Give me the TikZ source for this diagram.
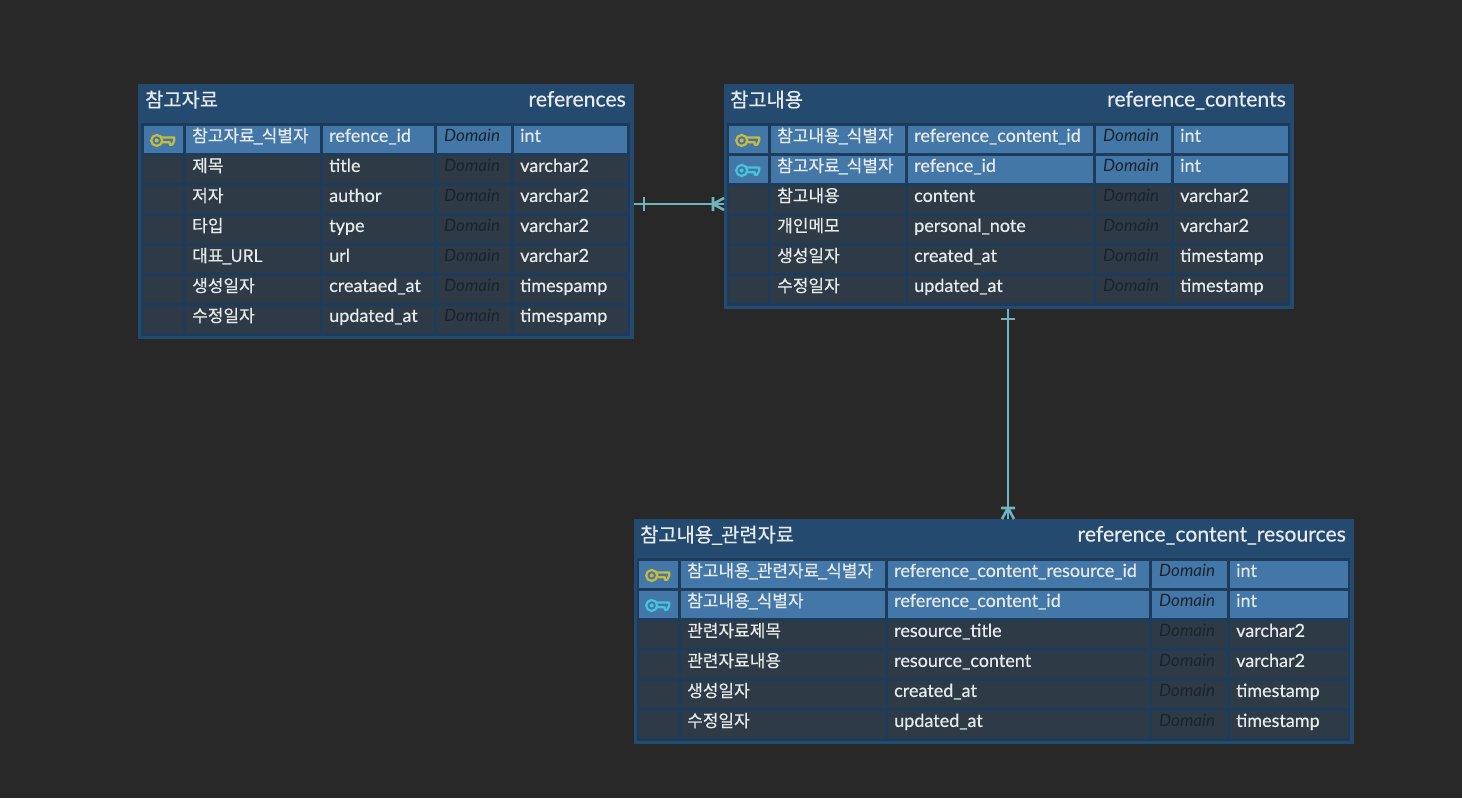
\documentclass[tikz,border=0pt]{standalone}
\usepackage{fontspec}
\setmainfont{Lato}
\newfontfamily\rowfont[RawFeature={embolden=0.5}]{Lato}
\newfontfamily\krfont[RawFeature={embolden=0.4}]{Noto Sans CJK KR}
\newcommand{\krus}{\kern-0.075em\_\kern-0.075em}
\usetikzlibrary{decorations.markings}

\definecolor{pagebg}{HTML}{282828}
\definecolor{panelblue}{HTML}{254A70}
\definecolor{framedark}{HTML}{1D3B5B}
\definecolor{pkfill}{HTML}{4277A8}
\definecolor{plainfill}{HTML}{2E3B46}
\definecolor{linkteal}{HTML}{6FB4BF}
\definecolor{textlight}{HTML}{E6EAEC}
\definecolor{domaindark}{HTML}{1B242B}
\definecolor{keyyellow}{HTML}{C9BC3C}
\definecolor{keycyan}{HTML}{46C4DA}

\tikzset{
    panel/.style={draw=panelblue, line width=0.8pt, fill=panelblue, anchor=north west, inner sep=0pt},
    frame box/.style={fill=framedark, anchor=north west, inner sep=0pt},
    cell/.style={anchor=north west, inner xsep=6pt, inner ysep=0pt, minimum height=27.5pt,
        text height=16pt, text depth=11.5pt, text width=#1pt-12pt, text=textlight,
        font=\rowfont\fontsize{18}{18}\selectfont},
    title kr/.style={anchor=base west, inner sep=0pt, text=textlight, font=\krfont\fontsize{19.8}{19.8}\selectfont},
    title en/.style={anchor=base east, inner sep=0pt, text=textlight, font=\rowfont\fontsize{21.2}{21.2}\selectfont},
    link/.style={draw=linkteal, line width=2.6pt, postaction={decorate},
        decoration={markings,
            mark=at position 10pt with {\draw[linkteal, line width=2.6pt] (0,-7) -- (0,7);},
            mark=at position -11pt with {\draw[linkteal, line width=2.6pt] (0,-7) -- (0,7)
                (0,0) -- (11,-6) (0,0) -- (11,6);}}},
    pics/keyicon/.style={code={
        \draw[#1, line width=2.2pt] (-7,0.8) circle (5.5);
        \fill[#1] (-7,0.8) circle (2);
        \draw[#1, line width=2.2pt, line join=round] (-1.5,-2.2) -- (10.5,-2.2) -- (10.5,1) -- (8.5,5)
            -- (6,5) -- (6,2.6) -- (-1.5,2.6);
    }},
}

% id, top, number of keys, x of the name, physical, domain, type columns, right end, rows
\newcommand{\ertable}[9]{%
    \foreach \lname/\pname/\tname [count=\i from 0] in {#9} {
        \pgfmathsetmacro{\ry}{#2+30*\i}
        \ifnum\i<#3 \def\rowfill{pkfill}\else \def\rowfill{plainfill}\fi
        \node[cell=39, fill=\rowfill] (#1-\i-key) at (#4-42,\ry) {};
        \node[cell=#5-#4-3, fill=\rowfill, font=\krfont\fontsize{17}{17}\selectfont] (#1-\i-name) at (#4,\ry) {\lname};
        \node[cell=#6-#5-3, fill=\rowfill] (#1-\i-col) at (#5,\ry) {\pname};
        \node[cell=#7-#6-5, fill=\rowfill, text=domaindark, inner xsep=7pt, font=\fontsize{17}{17}\selectfont\itshape] (#1-\i-dom) at (#6,\ry) {Domain};
        \node[cell=#8-#7, fill=\rowfill] (#1-\i-type) at (#7,\ry) {\tname};
        \ifnum\i<#3
            \ifnum\i=0 \pic at (#1-\i-key) {keyicon=keyyellow};
            \else \pic at (#1-\i-key) {keyicon=keycyan}; \fi
        \fi
    }%
}

\begin{document}
\begin{tikzpicture}[x=1pt,y=-1pt]
    \useasboundingbox[fill=pagebg] (0,0) rectangle (1462,798);

    % references
    \node[panel, minimum width=495pt, minimum height=254pt] (references) at (138,84) {};
    \node[frame box, minimum width=489pt, minimum height=213pt] (references-frame) at (141,123) {};
    \node[title kr] (references-kr) at (145,107) {참고자료};
    \node[title en] (references-en) at (626,106.5) {references};
    \ertable{ref}{125.7}{1}{186}{323}{437}{514}{627}{
        참고자료\krus 식별자/refence\_id/int,
        제목/title/varchar2,
        저자/author/varchar2,
        타입/type/varchar2,
        대표\krus URL/url/varchar2,
        생성일자/creataed\_at/timespamp,
        수정일자/updated\_at/timespamp}

    % reference_contents
    \node[panel, minimum width=569pt, minimum height=224pt] (contents) at (724,84) {};
    \node[frame box, minimum width=563pt, minimum height=183pt] (contents-frame) at (727,123) {};
    \node[title kr] (contents-kr) at (730,107) {참고내용};
    \node[title en] (contents-en) at (1286,106.5) {reference\_contents};
    \ertable{con}{125.7}{2}{771}{908}{1096}{1174}{1288}{
        참고내용\krus 식별자/reference\_content\_id/int,
        참고자료\krus 식별자/refence\_id/int,
        참고내용/content/varchar2,
        개인메모/personal\_note/varchar2,
        생성일자/created\_at/timestamp,
        수정일자/updated\_at/timestamp}

    % reference_content_resources
    \node[panel, minimum width=719pt, minimum height=224pt] (resources) at (634,519) {};
    \node[frame box, minimum width=713pt, minimum height=183pt] (resources-frame) at (637,558) {};
    \node[title kr] (resources-kr) at (640,542) {참고내용\krus 관련자료};
    \node[title en] (resources-en) at (1346,541.5) {reference\_content\_resources};
    \ertable{res}{560.7}{2}{681}{888}{1152}{1230}{1348}{
        참고내용\krus 관련자료\krus 식별자/reference\_content\_resource\_id/int,
        참고내용\krus 식별자/reference\_content\_id/int,
        관련자료제목/resource\_title/varchar2,
        관련자료내용/resource\_content/varchar2,
        생성일자/created\_at/timestamp,
        수정일자/updated\_at/timestamp}

    % relations
    \coordinate (refline) at (678,204);
    \coordinate (conline) at (1008,414);
    \draw[link] (references.east |- refline) -- (contents.west |- refline);
    \draw[link] (contents.south -| conline) -- (resources.north -| conline);
\end{tikzpicture}
\end{document}
